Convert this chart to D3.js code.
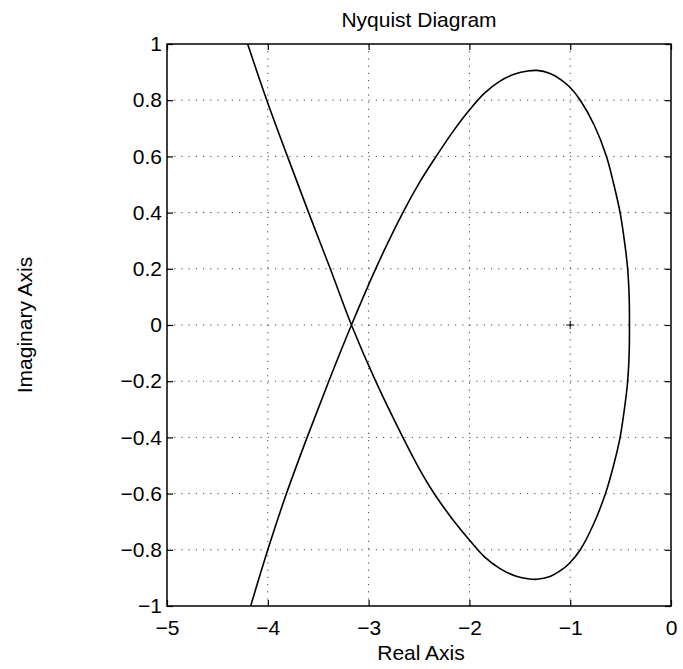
<!DOCTYPE html>
<html>
<head>
<meta charset="utf-8">
<script src="https://cdn.jsdelivr.net/npm/d3@7"></script>
<style>
  html, body { margin: 0; padding: 0; background: #fff; }
  svg { display: block; }
  text { font-family: "Liberation Sans", Arial, Helvetica, sans-serif; fill: #000; }
</style>
</head>
<body>
<svg id="chart" width="683" height="669"></svg>
<script>
// Nyquist locus: real and imaginary parts, traced in order along the curve
const reParts = [
  -4.20, -4.01, -3.805, -3.595, -3.38, -3.17,
  -2.93, -2.66, -2.50, -2.34, -2.17, -2.0, -1.85, -1.70, -1.55, -1.42, -1.33,
  -1.20, -1.08, -1.0, -0.90, -0.77, -0.65, -0.57, -0.505, -0.455, -0.43, -0.415,
  -0.412,
  -0.415, -0.43, -0.455, -0.505, -0.57, -0.64, -0.76, -0.90, -1.0, -1.08, -1.20,
  -1.33, -1.42, -1.55, -1.70, -1.85, -2.0, -2.16, -2.33, -2.49, -2.66, -2.93,
  -3.17, -3.395, -3.61, -3.815, -4.0, -4.17];
const imParts = [
  1.0, 0.8, 0.6, 0.4, 0.2, 0.0,
  -0.2, -0.4, -0.51, -0.605, -0.69, -0.765, -0.825, -0.866, -0.892, -0.903, -0.905,
  -0.895, -0.870, -0.845, -0.80, -0.71, -0.60, -0.50, -0.40, -0.28, -0.20, -0.10,
  0.0,
  0.10, 0.20, 0.28, 0.40, 0.504, 0.60, 0.71, 0.80, 0.845, 0.870, 0.895,
  0.906, 0.904, 0.893, 0.867, 0.825, 0.765, 0.69, 0.60, 0.51, 0.40, 0.20,
  0.0, -0.2, -0.4, -0.6, -0.8, -1.0];

// Critical point -1 + 0j
const criticalPoint = [-1, 0];

// Axis ticks
const xTicks = [-5, -4, -3, -2, -1, 0];
const yTicks = [-1, -0.8, -0.6, -0.4, -0.2, 0, 0.2, 0.4, 0.6, 0.8, 1];

const titleText = "Nyquist Diagram";
const xLabelText = "Real Axis";
const yLabelText = "Imaginary Axis";

const svg = d3.select("#chart");
const plotL = 167, plotR = 671, plotT = 44, plotB = 606;

const x = d3.scaleLinear().domain([-5, 0]).range([plotL, plotR]);
const y = d3.scaleLinear().domain([-1, 1]).range([plotB, plotT]);

const fmt = v => String(+v.toFixed(1)).replace("-", "\u2212");

// Dotted grid
const grid = svg.append("g").attr("stroke", "#444").attr("stroke-width", 1)
  .attr("stroke-dasharray", "1.2,6");
grid.selectAll("line.gx").data(xTicks.filter(v => v > -5 && v < 0)).join("line")
  .attr("class", "gx")
  .attr("x1", d => x(d)).attr("x2", d => x(d))
  .attr("y1", plotT).attr("y2", plotB);
grid.selectAll("line.gy").data(yTicks.filter(v => v > -1 && v < 1)).join("line")
  .attr("class", "gy")
  .attr("x1", plotL).attr("x2", plotR)
  .attr("y1", d => y(d)).attr("y2", d => y(d));

// Axes with inward ticks on all four sides
const fontSize = "21px";
const bottomAxis = svg.append("g").attr("transform", `translate(0,${plotB})`)
  .call(d3.axisBottom(x).tickValues(xTicks).tickSize(-6).tickPadding(14).tickFormat(fmt));
const leftAxis = svg.append("g").attr("transform", `translate(${plotL},0)`)
  .call(d3.axisLeft(y).tickValues(yTicks).tickSize(-6).tickPadding(5).tickFormat(fmt));
const topAxis = svg.append("g").attr("transform", `translate(0,${plotT})`)
  .call(d3.axisTop(x).tickValues(xTicks).tickSize(-6).tickFormat(""));
const rightAxis = svg.append("g").attr("transform", `translate(${plotR},0)`)
  .call(d3.axisRight(y).tickValues(yTicks).tickSize(-6).tickFormat(""));

[bottomAxis, leftAxis, topAxis, rightAxis].forEach(g => {
  g.select(".domain").remove();
  g.selectAll(".tick line").attr("stroke", "#000").attr("stroke-width", 1.2);
  g.selectAll(".tick text").style("font-size", fontSize)
    .style("font-family", "'Liberation Sans', Arial, sans-serif").attr("fill", "#000");
});

// Frame
svg.append("rect")
  .attr("x", plotL).attr("y", plotT)
  .attr("width", plotR - plotL).attr("height", plotB - plotT)
  .attr("fill", "none").attr("stroke", "#000").attr("stroke-width", 1.5);

// Clip for the locus
svg.append("clipPath").attr("id", "plotClip")
  .append("rect").attr("x", plotL).attr("y", plotT)
  .attr("width", plotR - plotL).attr("height", plotB - plotT);

const pts = reParts.map((r, i) => [r, imParts[i]]);
const line = d3.line().x(d => x(d[0])).y(d => y(d[1])).curve(d3.curveCatmullRom.alpha(0.5));

svg.append("path")
  .datum(pts)
  .attr("clip-path", "url(#plotClip)")
  .attr("d", line)
  .attr("fill", "none")
  .attr("stroke", "#000")
  .attr("stroke-width", 1.6)
  .attr("stroke-linejoin", "round");

// "+" at the critical point
const cx = x(criticalPoint[0]), cy = y(criticalPoint[1]), arm = 4;
svg.append("path")
  .attr("d", `M${cx - arm},${cy}H${cx + arm}M${cx},${cy - arm}V${cy + arm}`)
  .attr("stroke", "#000").attr("stroke-width", 1);

// Title and axis labels
svg.append("text")
  .attr("x", (plotL + plotR) / 2).attr("y", 27)
  .attr("text-anchor", "middle").style("font-size", fontSize)
  .text(titleText);

svg.append("text")
  .attr("x", (plotL + plotR) / 2 + 2).attr("y", 660)
  .attr("text-anchor", "middle").style("font-size", fontSize)
  .text(xLabelText);

svg.append("text")
  .attr("transform", `translate(32,${(plotT + plotB) / 2}) rotate(-90)`)
  .attr("text-anchor", "middle").style("font-size", fontSize)
  .text(yLabelText);
</script>
</body>
</html>
